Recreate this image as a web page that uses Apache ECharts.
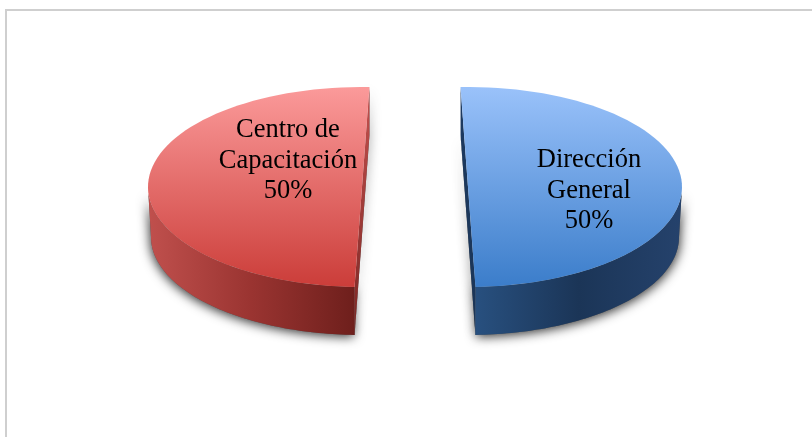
<!DOCTYPE html>
<html lang="es">
  <head>
    <meta charset="UTF-8" />
    <title>pie 3d</title>
    <script src="https://cdn.jsdelivr.net/npm/echarts@6/dist/echarts.min.js"></script>
    <style>
      html, body { margin: 0; padding: 0; background: #fff; }
      #chart { width: 812px; height: 437px; }
    </style>
  </head>
  <body>
    <div id="chart"></div>
    <script>
      var categories = ['Centro de\nCapacitación', 'Dirección\nGeneral'];
      var values = [50, 50];

      // geometria del pastel (no son datos)
      var radiusX = 214;
      var radiusY = 100;
      var lowerRadiusX = 211; // la base se ve un poco mas angosta
      var lowerRadiusY = 98;
      var depth = 48;
      var centerY = 187;
      var lowerCenterY = 237;
      var centersX = [362, 468];
      var startAngles = [92, -92];
      var labelOffsets = [[-74, -26], [121, 4]];

      var topColors = [
        ['#fb9a9a', '#cb3d39'],
        ['#9ac2fa', '#3b7dca']
      ];
      var wallColors = [
        ['#c0504d', '#9a3431', '#6e1f1c'],
        ['#28507f', '#1b3557', '#25426c']
      ];
      var cutColors = [
        ['#c4514e', '#7a2623'],
        ['#1d3a60', '#1b3557']
      ];

      var total = values.reduce(function (a, b) { return a + b; }, 0);

      function arc(cx, cy, rx, ry, from, to) {
        var pts = [];
        var steps = 72;
        for (var i = 0; i <= steps; i++) {
          var a = ((from + ((to - from) * i) / steps) * Math.PI) / 180;
          pts.push([cx + rx * Math.cos(a), cy + ry * Math.sin(a)]);
        }
        return pts;
      }

      function gradient(colors, horizontal) {
        var stops = colors.map(function (c, i) {
          return { offset: i / (colors.length - 1), color: c };
        });
        return new echarts.graphic.LinearGradient(0, 0, horizontal ? 1 : 0, horizontal ? 0 : 1, stops);
      }

      function shadowStyle(i) {
        return {
          fill: '#555',
          shadowBlur: 11,
          shadowOffsetX: i === 0 ? -1 : 1,
          shadowOffsetY: 2,
          shadowColor: 'rgba(0,0,0,0.8)'
        };
      }

      function renderSlice(params, api) {
        var i = params.dataIndex;
        var sweep = (api.value(1) / total) * 360;
        var from = startAngles[i];
        var to = from + sweep;
        var cx = centersX[i];

        var topFace = arc(cx, centerY, radiusX, radiusY, from, to);
        // parte visible de la pared: solo la mitad de abajo de la elipse
        var wallFrom = Math.max(from, 0);
        var wallTo = Math.min(to, 180);
        var wallTop = arc(cx, centerY, radiusX, radiusY, wallFrom, wallTo);
        var wallBottom = arc(cx, lowerCenterY, lowerRadiusX, lowerRadiusY, wallFrom, wallTo);
        var wall = wallTop.concat(wallBottom.slice().reverse());

        var a = topFace[0];
        var b = topFace[topFace.length - 1];
        var aLow = [a[0], a[1] + depth];
        var bLow = [b[0], b[1] + depth];
        var cut = [a, aLow, bLow, b];

        return {
          type: 'group',
          children: [
            { type: 'polygon', shape: { points: [aLow, bLow, b] }, style: shadowStyle(i) },
            { type: 'polygon', shape: { points: wall }, style: shadowStyle(i) },
            {
              type: 'polygon',
              shape: { points: cut },
              style: { fill: gradient(cutColors[i]) }
            },
            {
              type: 'polygon',
              shape: { points: wall },
              style: { fill: gradient(wallColors[i], true) }
            },
            {
              type: 'polygon',
              shape: { points: topFace },
              style: { fill: gradient(topColors[i]) }
            },
            {
              type: 'text',
              x: cx + labelOffsets[i][0],
              y: centerY + labelOffsets[i][1],
              style: {
                text: api.value(0) + '\n' + Math.round((api.value(1) / total) * 100) + '%',
                fill: '#000',
                font: '26.5px "Liberation Serif"',
                lineHeight: 30.5,
                align: 'center',
                verticalAlign: 'middle'
              }
            }
          ]
        };
      }

      var chart = echarts.init(document.getElementById('chart'), null, { renderer: 'canvas' });

      chart.setOption({
        backgroundColor: '#fff',
        animation: false,
        graphic: [
          {
            type: 'polyline',
            shape: { points: [[6, 437], [6, 10], [812, 10]] },
            style: { stroke: '#cfcfcf', lineWidth: 2, fill: null }
          }
        ],
        series: [
          {
            type: 'custom',
            coordinateSystem: 'none',
            renderItem: renderSlice,
            encode: { itemName: 0, value: 1 },
            dimensions: [{ name: 'name', type: 'ordinal' }, { name: 'value', type: 'number' }],
            data: categories.map(function (name, i) {
              return [name, values[i]];
            })
          }
        ]
      });
    </script>
  </body>
</html>
